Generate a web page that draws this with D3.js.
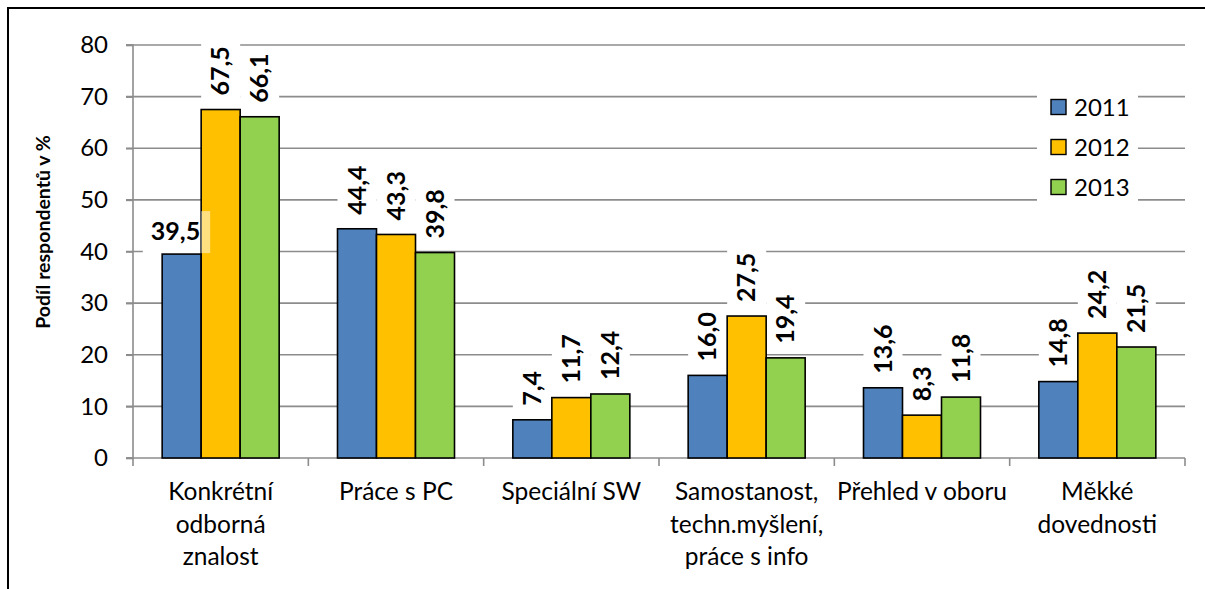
<!DOCTYPE html>
<html><head><meta charset="utf-8">
<script src="https://cdn.jsdelivr.net/npm/d3@7"></script>
<style>body{margin:0;background:#fff}svg{display:block}text{font-family:Lato,"Open Sans",sans-serif}</style>
</head><body>
<svg id="c" width="1205" height="589"></svg>
<script>
const categories = [["Konkrétní","odborná","znalost"],["Práce s PC"],["Speciální SW"],["Samostanost,","techn.myšlení,","práce s info"],["Přehled v oboru"],["Měkké","dovednosti"]];
const seriesNames = ["2011","2012","2013"];
const v2011 = [39.5, 44.4, 7.4, 16.0, 13.6, 14.8];
const v2012 = [67.5, 43.3, 11.7, 27.5, 8.3, 24.2];
const v2013 = [66.1, 39.8, 12.4, 19.4, 11.8, 21.5];
const yTicks = [0,10,20,30,40,50,60,70,80];
const colors = ["#4F81BD","#FFC000","#92D050"];
const yTitle = "Podíl respondentů v %";

const series = [v2011, v2012, v2013];
const svg = d3.select("#c");
svg.append("rect").attr("x",8).attr("y",8).attr("width",1210).attr("height",600)
  .attr("fill","none").attr("stroke","#000").attr("stroke-width",2);

const L=133, R=1185, T=45, B=458;
const x = d3.scaleBand().domain(d3.range(categories.length)).range([L,R]);
const y = d3.scaleLinear().domain([0,80]).range([B,T]);
const inner = d3.scaleBand().domain(d3.range(3)).range([0,117]);
const off = (x.bandwidth()-117)/2;

svg.append("g").selectAll("line").data(yTicks.filter(d=>d>0)).join("line")
  .attr("x1",L-7).attr("x2",R).attr("y1",d=>y(d)).attr("y2",d=>y(d))
  .attr("stroke","#8c8c8c").attr("stroke-width",1.6);

const ya = svg.append("g").attr("transform",`translate(${L},0)`).call(d3.axisLeft(y).tickValues(yTicks).tickSize(7).tickPadding(18).tickFormat(d3.format("d")));
ya.select(".domain").attr("stroke","#8c8c8c").attr("stroke-width",1.6).attr("d",`M-7,${T}H0V${B}H-7`);
ya.selectAll(".tick line").attr("stroke","#8c8c8c").attr("stroke-width",1.6);
ya.selectAll(".tick text").attr("font-size",24).attr("fill","#000").attr("font-family","Lato");

const xa = svg.append("g").attr("transform",`translate(0,${B})`);
xa.append("line").attr("x1",L-7).attr("x2",R).attr("y1",0).attr("y2",0).attr("stroke","#8c8c8c").attr("stroke-width",1.6);
xa.selectAll("line.t").data(d3.range(categories.length+1)).join("line").attr("class","t")
  .attr("x1",i=>L+i*x.step()).attr("x2",i=>L+i*x.step()).attr("y1",0).attr("y2",8)
  .attr("stroke","#8c8c8c").attr("stroke-width",1.6);
categories.forEach((lines,i)=>{
  const t = xa.append("text").attr("x",x(i)+x.bandwidth()/2).attr("y",42).attr("text-anchor","middle").attr("font-size",24.5).attr("fill","#000");
  lines.forEach((ln,j)=>t.append("tspan").attr("x",x(i)+x.bandwidth()/2).attr("dy",j?32.5:0).text(ln));
});

const fmt = v => d3.format(".1f")(v).replace(".",",");
const boxesG = svg.append("g");
const barsG = svg.append("g");
const overG = svg.append("g");
const textG = svg.append("g");
series.forEach((vals,s)=>{
  vals.forEach((v,i)=>{
    const bx = x(i)+off+inner(s), bw = inner.bandwidth();
    barsG.append("rect").attr("x",bx).attr("y",y(v)).attr("width",bw).attr("height",B-y(v))
      .attr("fill",colors[s]).attr("stroke","#000").attr("stroke-width",1.6);
    const cx = bx+bw/2;
    if (s===0 && i===0) {
      const t = textG.append("text").attr("x",bx+bw-1).attr("y",y(v)-14).attr("text-anchor","end")
        .attr("font-size",25).attr("font-weight","bold").text(fmt(v));
      const bb = t.node().getBBox();
      boxesG.append("rect").attr("x",bb.x-8).attr("y",bb.y-4).attr("width",bb.width+18).attr("height",y(v)-bb.y+3).attr("fill","#fff");
      overG.append("rect").attr("x",bx+bw).attr("y",bb.y-4).attr("width",bb.x+bb.width+10-(bx+bw)).attr("height",y(v)-bb.y+3).attr("fill","#fff").attr("opacity",0.5);
    } else {
      const t = textG.append("text").attr("transform",`translate(${cx+8.5},${y(v)-14}) rotate(-90)`)
        .attr("font-size",25).attr("font-weight","bold").text(fmt(v));
      const len = t.node().getComputedTextLength();
      boxesG.append("rect").attr("x",bx).attr("y",y(v)-14-len-5).attr("width",bw).attr("height",len+12).attr("fill","#fff");
    }
  });
});

svg.append("text").attr("transform",`translate(50,232) rotate(-90)`).attr("text-anchor","middle")
  .attr("font-size",19.5).attr("font-weight","bold").text(yTitle);

const lg = svg.append("g");
lg.append("rect").attr("x",1037).attr("y",86).attr("width",101).attr("height",120).attr("fill","#fff");
seriesNames.forEach((n,k)=>{
  const cy = 107+k*40;
  lg.append("rect").attr("x",1051).attr("y",cy-7.5).attr("width",15).attr("height",15).attr("fill",colors[k]).attr("stroke","#000").attr("stroke-width",1.4);
  lg.append("text").attr("x",1074).attr("y",cy).attr("dy","0.36em").attr("font-size",24).text(n);
});
</script>
</body></html>
